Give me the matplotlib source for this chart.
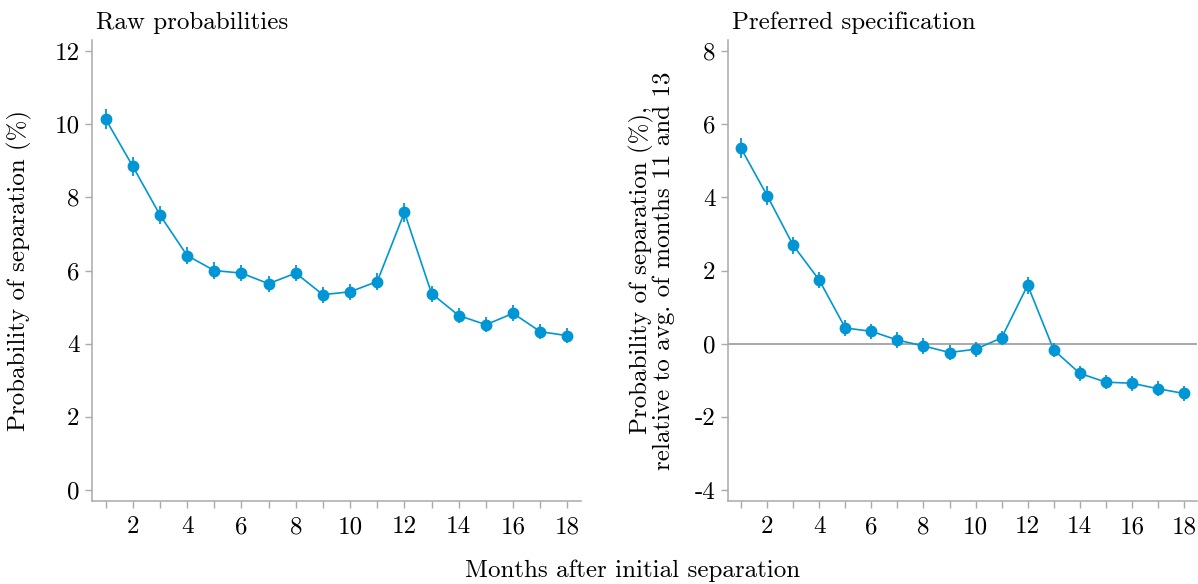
import matplotlib as mpl
mpl.use('Agg')
import matplotlib.pyplot as plt
import numpy as np

# months after initial separation
months = list(range(1, 19))

# raw monthly separation probabilities (%)
raw_prob = [10.14, 8.85, 7.52, 6.41, 6.00, 5.93, 5.64, 5.93, 5.34, 5.42,
            5.70, 7.59, 5.37, 4.77, 4.52, 4.83, 4.33, 4.22]
raw_err = [0.28, 0.26, 0.24, 0.23, 0.22, 0.22, 0.22, 0.22, 0.22, 0.22,
           0.22, 0.25, 0.22, 0.21, 0.21, 0.22, 0.21, 0.21]

# preferred specification, relative to avg. of months 11 and 13
pref_prob = [5.34, 4.05, 2.69, 1.74, 0.43, 0.34, 0.10, -0.06, -0.24, -0.15,
             0.16, 1.60, -0.17, -0.81, -1.05, -1.08, -1.23, -1.36]
pref_err = [0.27, 0.25, 0.23, 0.22, 0.21, 0.21, 0.21, 0.21, 0.20, 0.20,
            0.20, 0.23, 0.20, 0.20, 0.20, 0.21, 0.20, 0.21]

blue = '#0096D6'
grey = '#AAAAAA'

plt.rcParams['font.family'] = 'cmr10'
plt.rcParams['mathtext.fontset'] = 'cm'
plt.rcParams['axes.unicode_minus'] = False

fig = plt.figure(figsize=(11.98, 5.84), dpi=100)
ax1 = fig.add_axes([0.0768, 0.142, 0.4082, 0.7895])
ax2 = fig.add_axes([0.6077, 0.142, 0.3915, 0.7895])


def style(ax, ylim, yticks, title, ylabel):
    ax.errorbar(months, ylim[2], yerr=ylim[3], color=blue, lw=1.2,
                marker='o', ms=7.5, elinewidth=1.3, capsize=0, zorder=3)
    ax.set_xlim(0.5, 18.5)
    ax.set_ylim(ylim[0], ylim[1])
    ax.set_yticks(yticks)
    ax.set_xticks(range(2, 19, 2))
    ax.set_xticks(range(1, 19, 2), minor=True)
    for s in ['top', 'right']:
        ax.spines[s].set_visible(False)
    for s in ['left', 'bottom']:
        ax.spines[s].set_color(grey)
        ax.spines[s].set_linewidth(1.1)
    ax.tick_params(axis='both', which='both', color=grey, width=1.0,
                   length=5, labelsize=18, pad=4)
    ax.tick_params(axis='x', which='major', pad=6)
    ax.set_title(title, loc='left', fontsize=18, pad=8, x=0.008)
    ax.set_ylabel(ylabel, fontsize=18, linespacing=0.95)


style(ax1, (-0.3, 12.3, raw_prob, raw_err), range(0, 13, 2),
      'Raw probabilities', 'Probability of separation (%)')
ax1.yaxis.set_label_coords(-0.122, 0.5)

ax2.axhline(0, color='#999999', lw=1.2, zorder=1)
style(ax2, (-4.3, 8.3, pref_prob, pref_err), range(-4, 9, 2),
      'Preferred specification',
      'Probability of separation (%),\nrelative to avg. of months 11 and 13')
ax2.yaxis.set_label_coords(-0.112, 0.5)

fig.text(0.528, 0.022, 'Months after initial separation', ha='center',
         va='center', fontsize=18)

plt.savefig('out.png', dpi=100)
